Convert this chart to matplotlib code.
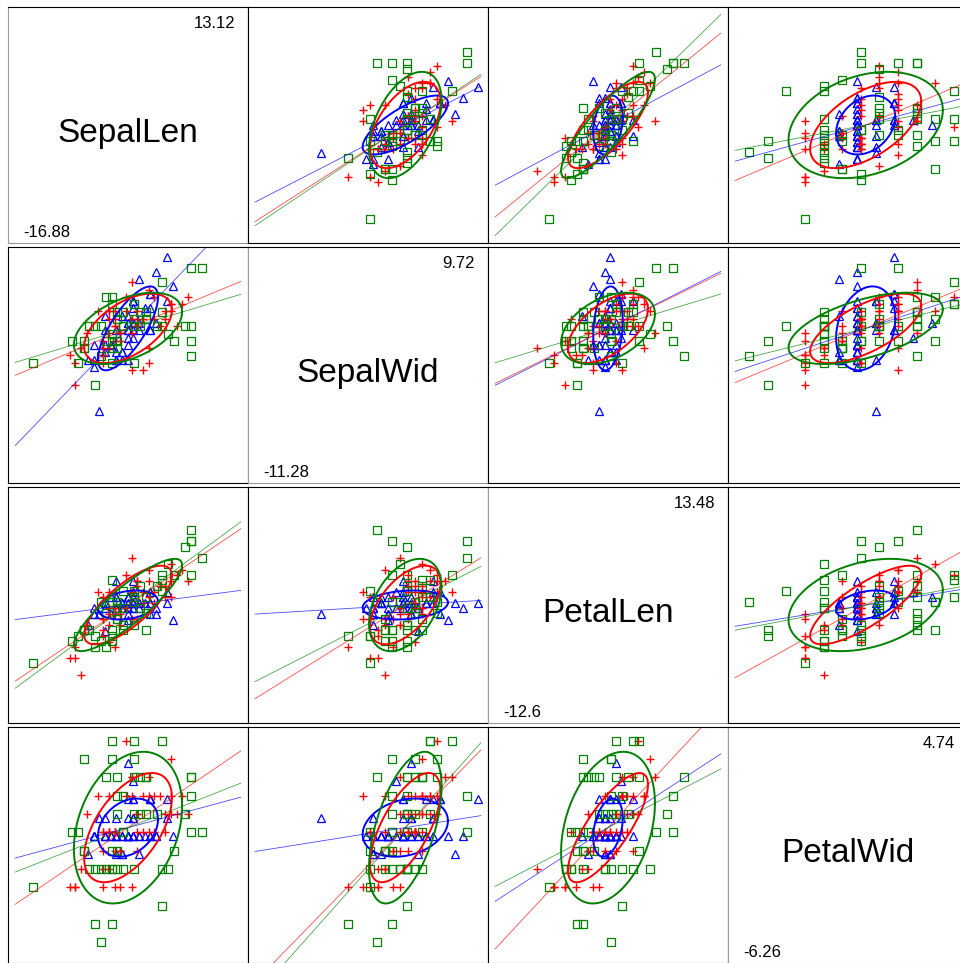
import numpy as np
import matplotlib
matplotlib.use('Agg')
import matplotlib.pyplot as plt

plt.rcParams['font.family'] = ['Liberation Sans', 'DejaVu Sans']

# Fisher's iris measurements (mm), one list per species and variable
setosa_sl = [51,49,47,46,50,54,46,50,44,49,54,48,48,43,58,57,54,51,57,51,54,51,46,51,48,
             50,50,52,52,47,48,54,52,55,49,50,55,49,44,51,50,45,44,50,51,48,51,46,53,50]
setosa_sw = [35,30,32,31,36,39,34,34,29,31,37,34,30,30,40,44,39,35,38,38,34,37,36,33,34,
             30,34,35,34,32,31,34,41,42,31,32,35,36,30,34,35,23,32,35,38,30,38,32,37,33]
setosa_pl = [14,14,13,15,14,17,14,15,14,15,15,16,14,11,12,15,13,14,17,15,17,15,10,17,19,
             16,16,15,14,16,16,15,15,14,15,12,13,14,13,15,13,13,13,16,19,14,16,14,15,14]
setosa_pw = [2,2,2,2,2,4,3,2,2,1,2,2,1,1,2,4,4,3,3,3,2,4,2,5,2,
             2,4,2,2,2,2,4,1,2,2,2,2,1,2,2,3,3,2,6,4,3,2,2,2,2]

versicolor_sl = [70,64,69,55,65,57,63,49,66,52,50,59,60,61,56,67,56,58,62,56,59,61,63,61,64,
                 66,68,67,60,57,55,55,58,60,54,60,67,63,56,55,55,61,58,50,56,57,57,62,51,57]
versicolor_sw = [32,32,31,23,28,28,33,24,29,27,20,30,22,29,29,31,30,27,22,25,32,28,25,28,29,
                 30,28,30,29,26,24,24,27,27,30,34,31,23,30,25,26,30,26,23,27,30,29,29,25,28]
versicolor_pl = [47,45,49,40,46,45,47,33,46,39,35,42,40,47,36,44,45,41,45,39,48,40,49,47,43,
                 44,48,50,45,35,38,37,39,51,45,45,47,44,41,40,44,46,40,33,42,42,42,43,30,41]
versicolor_pw = [14,15,15,13,15,13,16,10,13,14,10,15,10,14,13,14,15,10,15,11,18,13,15,12,13,
                 14,14,17,15,10,11,10,12,16,15,16,15,13,13,13,12,14,12,10,13,12,13,13,11,13]

virginica_sl = [63,58,71,63,65,76,49,73,67,72,65,64,68,57,58,64,65,77,77,60,69,56,77,63,67,
                72,62,61,64,72,74,79,64,63,61,77,63,64,60,69,67,69,58,68,67,67,63,65,62,59]
virginica_sw = [33,27,30,29,30,30,25,29,25,36,32,27,30,25,28,32,30,38,26,22,32,28,28,27,33,
                32,28,30,28,30,28,38,28,28,26,30,34,31,30,31,31,31,27,32,33,30,25,30,34,30]
virginica_pl = [60,51,59,56,58,66,45,63,58,61,51,53,55,50,51,53,55,67,69,50,57,49,67,49,57,
                60,48,49,56,58,61,64,56,51,56,61,56,55,48,54,56,51,51,59,57,52,50,52,54,51]
virginica_pw = [25,19,21,18,22,21,17,18,18,25,20,19,21,20,24,23,18,22,23,15,23,20,20,18,21,
                18,18,18,21,16,19,20,22,15,14,23,24,18,18,21,24,23,19,23,25,23,19,20,23,18]

var_names = ['SepalLen', 'SepalWid', 'PetalLen', 'PetalWid']
species = ['setosa', 'versicolor', 'virginica']
colors = {'setosa': '#0000ff', 'versicolor': '#ff0000', 'virginica': '#008000'}
markers = {'setosa': '^', 'versicolor': '+', 'virginica': 's'}

raw = {
    'setosa': [setosa_sl, setosa_sw, setosa_pl, setosa_pw],
    'versicolor': [versicolor_sl, versicolor_sw, versicolor_pl, versicolor_pw],
    'virginica': [virginica_sl, virginica_sw, virginica_pl, virginica_pw],
}

# deviations from each species' mean
dev = {}
for sp in species:
    arr = np.array(raw[sp], dtype=float)
    dev[sp] = arr - arr.mean(axis=1, keepdims=True)

all_dev = np.hstack([dev[sp] for sp in species])
vmin = all_dev.min(axis=1)
vmax = all_dev.max(axis=1)

# plotting range for each variable
limits = [(-21.3, 21.3), (-21.1, 11.1), (-21.3, 21.3), (-7.4, 5.5)]

# 68% concentration ellipse radius
radius = np.sqrt(-2.0 * np.log(1.0 - 0.68))
theta = np.linspace(0, 2 * np.pi, 200)
circle = np.vstack([np.cos(theta), np.sin(theta)])

W, H = 960, 963
fig = plt.figure(figsize=(W / 100, H / 100), dpi=100)

cell = 240
panel_w, panel_h = 240, 236
x_start, y_start = 8, 7

def fmt(v):
    return f"{round(v, 2):g}"

for i in range(4):
    for j in range(4):
        left = x_start + cell * j
        top = y_start + cell * i
        ax = fig.add_axes([left / W, 1 - (top + panel_h) / H, panel_w / W, panel_h / H])
        ax.set_xticks([])
        ax.set_yticks([])
        ax.set_xlim(limits[j])
        ax.set_ylim(limits[i])
        for side in ax.spines:
            ax.spines[side].set_linewidth(0.8)
            ax.spines[side].set_color('black')

        if i == j:
            ax.spines['left'].set_color('#9a9a9a')
            ax.spines['bottom'].set_color('#9a9a9a')
            ax.text(0.5, 0.466, var_names[i], transform=ax.transAxes, ha='center',
                    va='center', fontsize=24)
            ax.text(1 - 13 / panel_w, 1 - 21 / panel_h, fmt(vmax[i]), transform=ax.transAxes,
                    ha='right', va='baseline', fontsize=12)
            ax.text(15 / panel_w, 6 / panel_h, fmt(vmin[i]), transform=ax.transAxes,
                    ha='left', va='baseline', fontsize=12)
            continue

        x0, x1 = limits[j]
        pad = 0.03 * (x1 - x0)
        xl = np.array([x0 + pad, x1 - pad])

        for sp in species:
            xs = dev[sp][j]
            ys = dev[sp][i]
            c = colors[sp]
            if markers[sp] == '+':
                ax.plot(xs, ys, ls='none', marker='+', ms=6, mew=1.0, color=c)
            else:
                ax.plot(xs, ys, ls='none', marker=markers[sp], ms=6, mew=0.9,
                        mfc='none', mec=c)

        for sp in species:
            xs = dev[sp][j]
            ys = dev[sp][i]
            c = colors[sp]
            cov = np.cov(xs, ys)
            slope = cov[0, 1] / cov[0, 0]
            ax.plot(xl, slope * xl, color=c, lw=0.6, alpha=0.7)
            L = np.linalg.cholesky(cov)
            pts = radius * (L @ circle)
            ax.plot(pts[0], pts[1], color=c, lw=1.4)

fig.savefig('out.png', dpi=100)
